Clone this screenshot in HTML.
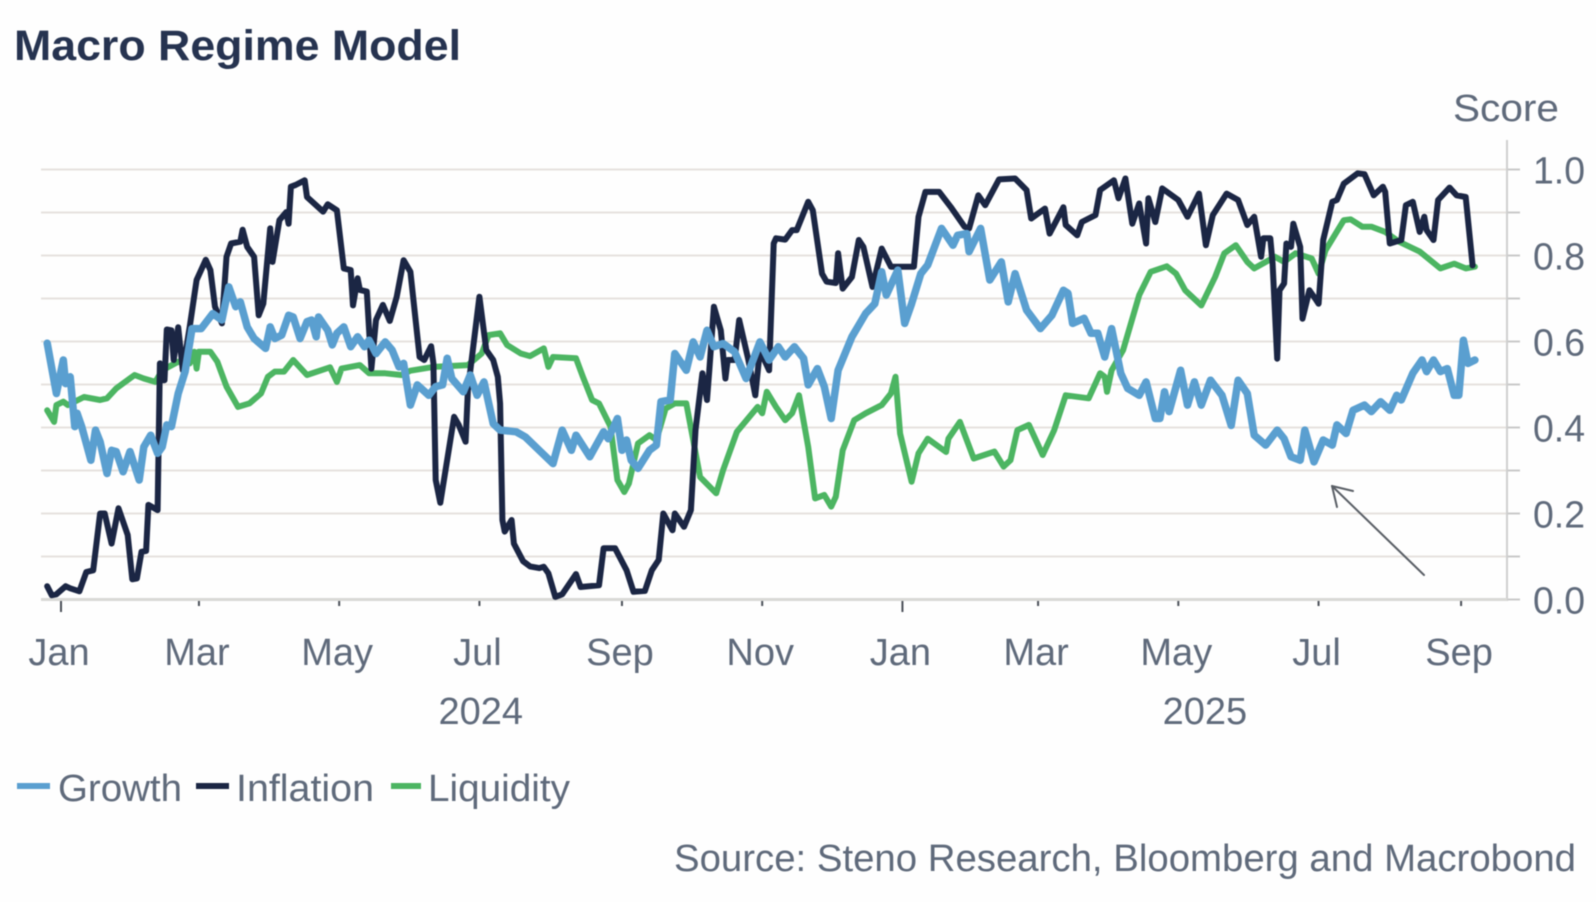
<!DOCTYPE html>
<html lang="en">
<head>
<meta charset="utf-8">
<title>Macro Regime Model</title>
<style>
html,body{margin:0;padding:0;background:#fff;}
svg{display:block;font-family:"Liberation Sans",sans-serif;filter:blur(0.5px);}
.lbl{font-size:38px;fill:#5f6a7b;}
</style>
</head>
<body>
<svg id="chart" width="1596" height="902" viewBox="0 0 1596 902" xmlns="http://www.w3.org/2000/svg">
  <rect x="0" y="0" width="1596" height="902" fill="#fefefe"/>
  <text x="14" y="60" font-size="43" font-weight="bold" fill="#263350" textLength="447" lengthAdjust="spacingAndGlyphs">Macro Regime Model</text>
  <text class="lbl" x="1453" y="121" textLength="106" lengthAdjust="spacingAndGlyphs">Score</text>
  <g id="grid"></g>
  <g id="axes"></g>
  <g id="series"></g>
  <g fill="none" stroke="#5a5f66" stroke-width="2" stroke-linecap="round">
    <line x1="1424" y1="575" x2="1332" y2="486"/>
    <line x1="1332" y1="486" x2="1353" y2="491"/>
    <line x1="1332" y1="486" x2="1337" y2="507"/>
  </g>
  <g>
    <g>
      <line x1="17" y1="786" x2="50" y2="786" stroke="#5a9fd0" stroke-width="6"/>
      <text class="lbl" x="58" y="801" textLength="124" lengthAdjust="spacingAndGlyphs">Growth</text>
    </g>
    <g>
      <line x1="196" y1="786" x2="229" y2="786" stroke="#1b2644" stroke-width="6"/>
      <text class="lbl" x="236" y="801" textLength="138" lengthAdjust="spacingAndGlyphs">Inflation</text>
    </g>
    <g>
      <line x1="391" y1="786" x2="421" y2="786" stroke="#4cb562" stroke-width="6"/>
      <text class="lbl" x="428" y="801" textLength="142" lengthAdjust="spacingAndGlyphs">Liquidity</text>
    </g>
  </g>
  <text class="lbl" x="674" y="871" textLength="902" lengthAdjust="spacingAndGlyphs">Source: Steno Research, Bloomberg and Macrobond</text>
</svg>
<script>
const yTickValues = [0,0.1,0.2,0.3,0.4,0.5,0.6,0.7,0.8,0.9,1.0];
const yLabelValues = [0,0.2,0.4,0.6,0.8,1.0];
const yLabelTexts = ['0.0','0.2','0.4','0.6','0.8','1.0'];
const monthTickDays = [0,60,121,182,244,305,366,425,486,547,609];
const monthTickLabels = ['Jan','Mar','May','Jul','Sep','Nov','Jan','Mar','May','Jul','Sep'];
const yearLabelDays = [183,498];
const yearLabels = ['2024','2025'];

const inflationDays = [-6,-4,-2,2,4,8,11,14,17,19,22,25,29,31,33,35,37,38,42,43,44,45,46,48,49,51,53,56,59,63,65,67,70,72,74,78,79,81,84,86,88,91,92,95,98,99,100,102,106,107,114,116,120,123,126,127,129,130,133,135,137,140,143,146,149,152,156,158,161,162,163,165,171,173,176,177,182,185,188,190,191,192,193,196,197,201,204,208,
210,212,215,218,224,226,234,236,241,246,249,254,257,260,262,266,267,271,274,276,279,281,282,284,287,289,290,293,295,299,302,304,308,310,311,315,318,320,325,327,331,333,337,338,340,344,347,349,353,357,361,367,371,373,376,382,387,393,395,399,402,408,415,420,422,428,
430,436,437,442,444,450,452,458,460,463,466,469,472,473,476,479,486,490,495,498,501,507,512,516,519,522,523,526,527,529,530,532,533,535,536,539,540,543,546,547,549,553,555,558,564,567,571,575,576,578,583,585,588,591,593,594,597,599,604,607,611,614];
const inflationScores = [.031,.010,.012,.031,.026,.019,.064,.068,.200,.200,.130,.212,.150,.047,.049,.111,.113,.220,.208,.549,.510,.510,.628,.626,.557,.633,.533,.634,.743,.790,.766,.681,.642,.797,.828,.832,.860,.820,.797,.661,.688,.863,.785,.882,.901,.874,.960,.964,.975,.936,.902,.919,.905,.770,.766,.684,.747,.720,.716,.537,.650,.685,.648,.704,.789,.762,.564,.557,.589,.549,.278,.225,.425,.406,.367,.487,.704,.580,.557,.518,.456,.185,.158,.185,.130,.089,.077,.073,
.076,.061,.006,.012,.059,.029,.033,.119,.119,.068,.018,.020,.068,.092,.200,.161,.200,.169,.208,.394,.526,.464,.533,.681,.626,.514,.557,.557,.650,.557,.475,.580,.533,.828,.840,.837,.859,.859,.925,.905,.758,.739,.736,.805,.723,.750,.836,.820,.727,.816,.774,.774,.774,.890,.948,.948,.913,.867,.863,.940,.917,.977,.979,.952,.886,.909,
.851,.912,.871,.847,.878,.894,.952,.975,.933,.979,.874,.921,.828,.933,.878,.956,.929,.890,.944,.824,.894,.944,.929,.871,.890,.797,.840,.840,.781,.560,.719,.735,.828,.820,.874,.820,.653,.719,.696,.688,.836,.925,.929,.967,.991,.989,.940,.960,.948,.828,.836,.917,.925,.855,.890,.859,.836,.929,.958,.940,.936,.777];

const growthDays = [-6,-2,1,2,4,6,7,9,13,15,17,20,22,24,27,30,34,36,39,42,44,46,48,51,54,57,61,66,70,73,76,78,81,84,89,91,93,96,99,101,104,107,109,111,112,116,118,120,123,126,129,132,134,137,141,144,147,149,152,155,160,163,166,168,170,175,178,181,184,188,191,198,202,208,
214,218,222,224,230,236,238,242,244,246,248,251,256,259,261,265,267,272,275,278,281,284,288,293,298,304,308,312,315,319,323,325,329,332,335,338,344,350,354,357,359,364,367,370,374,377,383,388,390,394,395,400,404,409,412,415,420,426,
431,436,438,440,445,448,451,454,457,461,464,469,472,476,478,480,482,487,490,493,496,500,505,509,512,516,519,524,529,532,535,539,541,545,549,553,555,559,562,567,570,574,578,581,583,588,592,594,597,600,603,606,608,610,612,615];
const growthScores = [.596,.479,.557,.502,.518,.402,.433,.402,.324,.394,.367,.293,.347,.344,.297,.344,.278,.355,.382,.340,.355,.406,.402,.479,.530,.630,.630,.665,.650,.727,.681,.692,.634,.607,.584,.634,.607,.615,.661,.657,.607,.646,.650,.611,.657,.626,.592,.619,.634,.588,.611,.588,.603,.572,.599,.580,.541,.549,.452,.499,.475,.495,.499,.561,.514,.483,.522,.475,.506,.409,.394,.390,.378,.347,
.316,.394,.347,.382,.332,.390,.374,.421,.347,.371,.324,.305,.347,.359,.460,.464,.572,.533,.599,.564,.626,.588,.595,.576,.514,.599,.557,.588,.564,.588,.561,.499,.537,.495,.421,.533,.611,.665,.688,.762,.708,.766,.642,.688,.758,.778,.863,.824,.847,.851,.809,.863,.743,.785,.692,.758,.673,.630,
.661,.719,.712,.642,.654,.619,.619,.564,.630,.526,.491,.475,.506,.421,.421,.483,.437,.533,.452,.506,.452,.510,.475,.405,.510,.479,.382,.359,.394,.374,.332,.324,.394,.320,.371,.359,.406,.386,.440,.452,.437,.460,.440,.475,.464,.526,.557,.530,.557,.530,.537,.475,.475,.603,.549,.557];

const liquidityDays = [-6,-3,-2,1,3,10,17,20,24,32,36,41,44,51,56,58,59,60,65,68,72,77,82,87,90,93,97,101,107,117,120,122,130,134,141,148,152,162,177,183,186,191,194,200,204,
210,212,214,224,227,231,234,239,242,245,247,251,256,259,263,267,272,275,278,285,288,294,303,305,307,311,315,318,321,325,328,332,335,337,340,345,350,357,361,363,365,370,373,377,385,386,391,397,406,410,413,416,421,427,
432,437,447,452,454,455,457,462,469,474,481,485,489,496,502,506,511,516,519,528,532,537,544,547,550,558,561,566,570,576,582,591,600,606,611,615];
const liquidityScores = [.440,.413,.452,.460,.452,.471,.464,.468,.491,.522,.514,.506,.533,.553,.549,.576,.537,.576,.576,.553,.495,.448,.456,.479,.518,.530,.530,.557,.522,.540,.506,.537,.545,.526,.526,.522,.532,.541,.545,.572,.615,.619,.592,.572,.566,
.584,.541,.564,.561,.518,.464,.456,.402,.278,.250,.270,.363,.382,.371,.444,.456,.456,.371,.285,.247,.301,.390,.448,.433,.483,.448,.417,.433,.475,.355,.235,.243,.216,.239,.347,.417,.433,.452,.479,.518,.386,.274,.340,.374,.343,.374,.413,.328,.344,.309,.324,.394,.406,.336,
.394,.475,.468,.526,.518,.483,.533,.580,.708,.762,.775,.758,.719,.684,.750,.805,.824,.785,.770,.797,.785,.805,.793,.758,.812,.882,.884,.867,.867,.855,.832,.809,.770,.781,.770,.774];

const NS = 'http://www.w3.org/2000/svg';
const xScale = function (day) { return 61 + day * 2.299; };
const yScale = function (score) { return 599.5 - score * 430; };
const gridGroup = document.getElementById('grid');
const axesGroup = document.getElementById('axes');
const seriesGroup = document.getElementById('series');

function svgEl(tag, attrs, parent) {
  const el = document.createElementNS(NS, tag);
  Object.keys(attrs).forEach(function (k) { el.setAttribute(k, attrs[k]); });
  parent.appendChild(el);
  return el;
}

yTickValues.forEach(function (v) {
  const y = yScale(v);
  if (v > 0) {
    const grid = svgEl('line', {x1: 41, y1: y, x2: 1507, y2: y, stroke: '#e6e2de', 'stroke-width': 2}, gridGroup);
    
    
  }
  const tick = svgEl('line', {x1: 1507, y1: y, x2: 1520, y2: y, stroke: '#c9c9c9', 'stroke-width': 2}, axesGroup);
  
  
});

const yAxisLine = svgEl('line', {x1: 1507, y1: 140, x2: 1507, y2: 601, stroke: '#cfcfcf', 'stroke-width': 2}, axesGroup);



const xAxisLine = svgEl('line', {x1: 41, y1: yScale(0), x2: 1507, y2: yScale(0), stroke: '#d9d9d6', 'stroke-width': 3}, axesGroup);



yLabelValues.forEach(function (v, i) {
  const t = svgEl('text', {x: 1533, y: yScale(v) + 14, 'class': 'lbl', textLength: 52, lengthAdjust: 'spacingAndGlyphs'}, axesGroup);
  t.textContent = yLabelTexts[i];
  
  
});

monthTickDays.forEach(function (d, i) {
  const x = xScale(d);
  const isYearStart = monthTickLabels[i] === 'Jan';
  const tick = svgEl('line', {x1: x, y1: 601, x2: x, y2: isYearStart ? 612 : 606, stroke: '#4a4f58', 'stroke-width': 2}, axesGroup);
  
  
  const t = svgEl('text', {x: x - 2, y: 665, 'class': 'lbl', 'text-anchor': 'middle'}, axesGroup);
  t.textContent = monthTickLabels[i];
  
  
});

yearLabelDays.forEach(function (d, i) {
  const t = svgEl('text', {x: xScale(d) - 1, y: 724, 'class': 'lbl', 'text-anchor': 'middle'}, axesGroup);
  t.textContent = yearLabels[i];
  
  
});

function drawLine(days, scores, color, width) {
  const n = Math.min(days.length, scores.length);
  let d = '';
  for (let i = 0; i < n; i++) {
    d += (i ? 'L' : 'M') + xScale(days[i]).toFixed(1) + ' ' + yScale(scores[i]).toFixed(1);
  }
  return svgEl('path', {d: d, fill: 'none', stroke: color, 'stroke-width': width, 'stroke-linejoin': 'round', 'stroke-linecap': 'round'}, seriesGroup);
}

const liquidityLine = drawLine(liquidityDays, liquidityScores, '#4cb562', 6);



const inflationLine = drawLine(inflationDays, inflationScores, '#1b2644', 6);



const growthLine = drawLine(growthDays, growthScores, '#5a9fd0', 7.5);


</script>
</body>
</html>
